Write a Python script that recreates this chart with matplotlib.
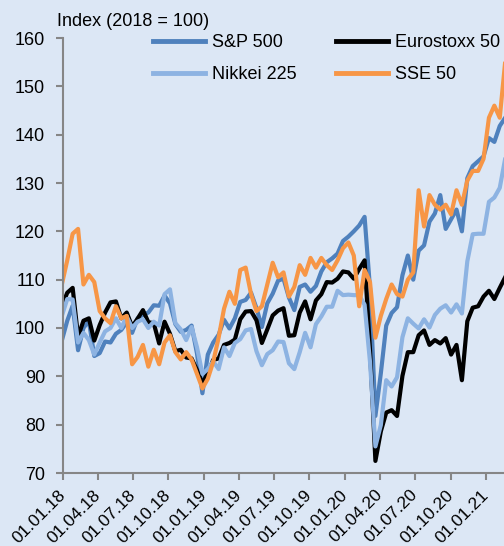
import pandas as pd
import matplotlib
matplotlib.use("Agg")
import matplotlib.pyplot as plt
import matplotlib.dates as mdates

# fortnightly closes, index 2018 = 100
dates = pd.date_range("2017-12-29", periods=83, freq="14D")

spx = [97.4, 101.5, 104.6, 95.4, 100.0, 101.5, 94.2, 94.8, 97.2, 97.0,
       98.8, 99.6, 101.2, 99.0, 102.0, 102.7, 103.2, 104.7, 104.6, 106.7,
       105.1, 100.8, 99.2, 99.6, 100.5, 94.7, 86.5, 94.5, 97.0, 98.6,
       101.7, 99.9, 102.0, 105.4, 105.8, 107.3, 104.1, 100.2, 105.1, 107.1,
       109.8, 110.2, 106.3, 103.7, 108.5, 109.0, 107.5, 108.7, 111.7, 113.6,
       114.4, 115.4, 118.0, 118.9, 120.0, 121.2, 123.0, 108.2, 81.8, 90.6,
       100.5, 103.1, 104.3, 110.9, 115.0, 110.0, 116.0, 117.1, 122.0, 123.7,
       127.5, 120.5, 122.5, 124.5, 120.0, 131.0, 133.5, 134.5, 135.5, 139.3,
       138.5, 141.8, 143.5]

sx5e = [104.5, 107.3, 108.3, 98.2, 101.5, 102.0, 97.4, 100.6, 103.2, 105.3,
        105.5, 102.0, 103.2, 100.3, 101.9, 103.7, 101.2, 101.0, 96.8, 101.3,
        98.8, 95.2, 95.5, 93.9, 93.7, 91.3, 88.5, 90.7, 93.4, 93.7,
        96.5, 96.9, 97.6, 101.8, 103.4, 103.5, 101.6, 96.9, 99.7, 102.6,
        103.6, 104.1, 98.4, 98.5, 103.2, 105.5, 101.8, 105.7, 107.0, 109.5,
        109.4, 110.2, 111.7, 111.5, 110.2, 112.2, 114.0, 95.5, 72.5, 78.6,
        82.5, 83.0, 81.8, 90.1, 95.0, 95.0, 98.5, 99.5, 96.5, 97.5,
        96.8, 97.9, 94.5, 96.5, 89.2, 101.4, 104.2, 104.5, 106.5, 107.7,
        106.0, 108.3, 110.5]

nky = [102.5, 106.0, 105.9, 97.0, 99.0, 97.5, 94.5, 97.0, 99.3, 100.0,
       102.0, 100.0, 102.4, 100.0, 101.3, 101.8, 100.0, 101.3, 100.5, 107.0,
       108.0, 101.0, 99.7, 97.5, 100.2, 96.0, 90.5, 91.5, 93.1, 91.5,
       96.0, 94.2, 96.9, 97.7, 99.5, 99.8, 95.2, 92.3, 94.6, 95.4,
       97.2, 97.1, 92.7, 91.5, 95.0, 99.0, 96.0, 100.8, 102.4, 104.4,
       104.4, 107.7, 106.8, 106.9, 106.8, 106.8, 104.8, 93.0, 75.5, 79.9,
       89.2, 87.9, 89.8, 98.1, 102.0, 100.9, 99.9, 101.8, 100.1, 102.7,
       104.0, 104.7, 103.2, 104.9, 103.0, 113.8, 119.4, 119.5, 119.5, 126.1,
       127.0, 129.0, 135.0]

sse = [109.0, 114.0, 119.5, 120.5, 109.0, 111.0, 109.5, 103.5, 102.0, 101.0,
       104.5, 102.0, 102.5, 92.5, 94.0, 96.5, 92.0, 95.5, 92.5, 97.0,
       98.5, 95.0, 93.5, 95.0, 93.5, 90.5, 87.5, 89.5, 93.0, 98.0,
       104.0, 107.5, 105.0, 112.0, 112.5, 107.0, 103.5, 104.5, 109.0, 113.5,
       110.5, 111.5, 106.5, 108.5, 113.0, 111.0, 114.5, 112.5, 114.5, 113.0,
       112.0, 114.0, 116.5, 117.7, 115.0, 104.5, 112.0, 109.5, 98.0, 102.5,
       106.0, 109.0, 107.0, 106.5, 110.0, 111.5, 128.5, 121.0, 127.5, 125.5,
       124.5, 125.5, 123.5, 128.5, 125.5, 130.5, 132.5, 132.5, 135.0, 143.5,
       146.0, 143.5, 155.0]

tick_dates = pd.date_range("2018-01-01", "2021-01-01", freq="QS")
bg = "#dce7f5"
grey = "#868686"

plt.rcParams["font.family"] = ["Liberation Sans", "DejaVu Sans"]
plt.rcParams["font.size"] = 13

fig = plt.figure(figsize=(5.04, 5.46), dpi=100, facecolor=bg)
ax = fig.add_axes([63 / 504, 73 / 546, 441 / 504, 435 / 546], facecolor=bg)

l1, = ax.plot(dates, spx, color="#4f81bd", lw=3, label="S&P 500")
l2, = ax.plot(dates, sx5e, color="black", lw=3, label="Eurostoxx 50")
l3, = ax.plot(dates, nky, color="#8db3e2", lw=3, label="Nikkei 225")
l4, = ax.plot(dates, sse, color="#f79646", lw=3, label="SSE 50")

ax.set_ylim(70, 160)
ax.set_yticks(range(70, 161, 10))
ax.set_xlim(pd.Timestamp("2018-01-01"), pd.Timestamp("2021-02-16"))
ax.set_xticks(tick_dates)
ax.xaxis.set_major_formatter(mdates.DateFormatter("%d.%m.%y"))
for lab in ax.get_xticklabels():
    lab.set_rotation(45)
    lab.set_ha("right")
    lab.set_va("center")
    lab.set_rotation_mode("anchor")
    lab.set_fontsize(12.5)

for s in ["top", "right"]:
    ax.spines[s].set_visible(False)
for s in ["left", "bottom"]:
    ax.spines[s].set_color(grey)
    ax.spines[s].set_linewidth(1.5)
ax.tick_params(axis="both", direction="out", color=grey, width=1.5, length=5,
               labelcolor="black")
ax.tick_params(axis="y", pad=8)
ax.tick_params(axis="x", pad=9)

fig.text(57 / 504, 1 - 21 / 546, "Index (2018 = 100)", va="center", ha="left")

leg = fig.legend([l1, l3, l2, l4], ["S&P 500", "Nikkei 225", "Eurostoxx 50", "SSE 50"],
                 ncol=2, loc="upper left", bbox_to_anchor=(153 / 504, 1 - 34 / 546),
                 frameon=False, handlelength=2.9, handletextpad=0.35,
                 columnspacing=2.2, borderpad=0, borderaxespad=0, labelspacing=0.85)
for h in leg.get_lines():
    h.set_linewidth(3.5)

fig.savefig("out.png", dpi=100, facecolor=bg)
